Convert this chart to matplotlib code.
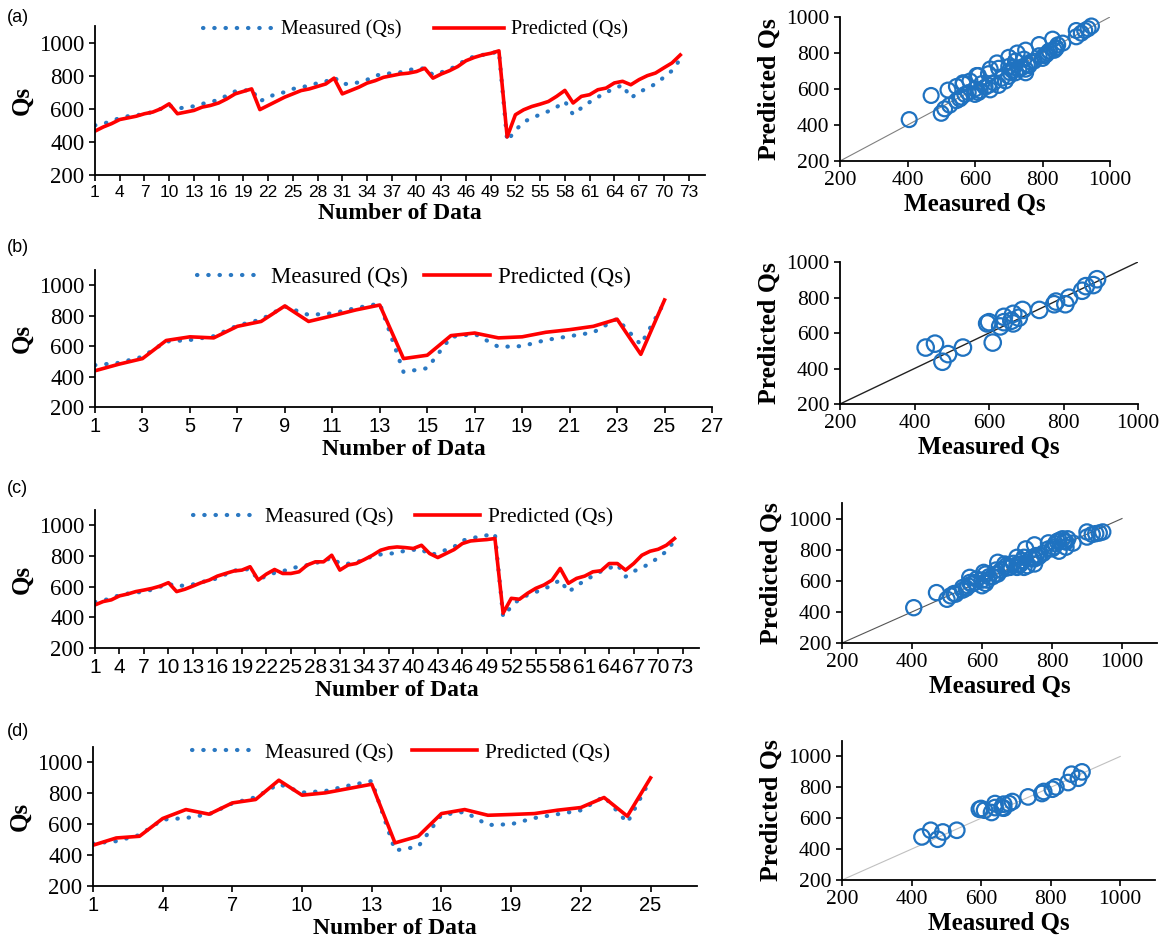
import numpy as np
import matplotlib
matplotlib.use("Agg")
import matplotlib.pyplot as plt

# ---- data ----
# 72-sample set, panels (a) and (c)
measured_72 = [500, 510, 525, 545, 555, 560, 570, 580, 600, 620,
               600, 610, 615, 630, 640, 655, 680, 705, 710, 715,
               645, 670, 690, 700, 720, 730, 740, 755, 765, 790,
               750, 750, 760, 775, 800, 810, 815, 820, 835, 840,
               845, 805, 820, 840, 860, 900, 915, 925, 935, 945,
               405, 470, 520, 545, 565, 585, 610, 645, 565, 605,
               640, 670, 700, 720, 745, 665, 700, 725, 750, 790,
               830, 900]
predicted_a = [465, 490, 510, 535, 545, 555, 570, 580, 600, 630,
               570, 580, 590, 610, 620, 635, 660, 690, 705, 720,
               595, 620, 645, 670, 690, 710, 720, 735, 750, 785,
               690, 710, 730, 755, 770, 790, 800, 810, 815, 825,
               845, 785, 810, 830, 855, 890, 910, 925, 935, 950,
               430, 564, 594, 614, 628, 644, 675, 711, 635, 675,
               685, 715, 725, 756, 766, 745, 776, 800, 816, 847,
               877, 925]
predicted_c = [481, 503, 514, 540, 552, 568, 578, 589, 604, 626,
               568, 583, 604, 626, 643, 669, 686, 702, 708, 730,
               643, 682, 712, 686, 686, 697, 741, 762, 762, 805,
               708, 741, 751, 777, 805, 838, 853, 859, 855, 849,
               870, 816, 790, 816, 842, 881, 898, 903, 907, 914,
               427, 524, 518, 557, 589, 611, 643, 719, 622, 654,
               669, 697, 704, 751, 751, 708, 751, 805, 831, 844,
               870, 914]

# 25-sample set, panels (b) and (d)
measured_25 = [475, 490, 530, 630, 640, 665, 735, 775, 860, 805,
               815, 850, 880, 430, 455, 660, 680, 595, 600, 640,
               665, 690, 780, 610, 890]
predicted_b = [438, 481, 518, 637, 661, 654, 730, 762, 864, 762,
               799, 838, 870, 518, 540, 669, 686, 654, 661, 691,
               708, 730, 777, 546, 903]
predicted_d = [464, 511, 522, 637, 695, 665, 738, 760, 885, 788,
               803, 831, 859, 479, 522, 669, 695, 658, 663, 669,
               691, 708, 773, 652, 900]

panel_labels = ["(a)", "(b)", "(c)", "(d)"]

SERIF = "Liberation Serif"
SANS = "Liberation Sans"
BLUE = "#2a78c2"
RED = "#ff0000"

W, H = 1159, 947
fig = plt.figure(figsize=(W / 100, H / 100), dpi=100)


def box(l, t, r, b):
    return [l / W, 1 - b / H, (r - l) / W, (b - t) / H]


def style_axes(ax):
    for s in ["top", "right"]:
        ax.spines[s].set_visible(False)
    for s in ["left", "bottom"]:
        ax.spines[s].set_linewidth(1.3)
    ax.tick_params(direction="out", length=4, width=1.2)


# (layout box, measured, predicted, xlim, xticks, x tick size, legend centre, legend size, col spacing, handle len)
line_panels = [
    (box(95, 26, 705, 175), measured_72, predicted_a, (1, 75), range(1, 74, 3), 12.5, (0.526, 0.973), 14.5, 1.6, 3.5),
    (box(95, 270, 712, 407), measured_25, predicted_b, (1, 27), range(1, 28, 2), 14.5, (0.517, 0.949), 16.5, 0.7, 2.9),
    (box(95, 510, 699, 648), measured_72, predicted_c, (1, 75), range(1, 74, 3), 15, (0.51, 0.949), 15.5, 1.0, 3.0),
    (box(93, 747, 697, 886), measured_25, predicted_d, (1, 27), range(1, 26, 3), 14.5, (0.51, 0.957), 15.5, 0.9, 3.0),
]

scatter_panels = [
    (box(840, 17, 1110, 161), measured_72, predicted_a, 1000, "#808080", 0.8, 115),
    (box(840, 262, 1138, 404), measured_25, predicted_b, 1000, "#222222", 1.0, 140),
    (box(842, 503, 1157, 643), measured_72, predicted_c, 1100, "#555555", 0.8, 120),
    (box(842, 741, 1155, 880), measured_25, predicted_d, 1100, "#c0c0c0", 0.8, 125),
]

label_y = [17, 248, 488, 731]

for i, (rect, meas, pred, xlim, xticks, xts, lc, lfs, csp, hl) in enumerate(line_panels):
    ax = fig.add_axes(rect)
    x = np.arange(1, len(meas) + 1)
    ax.plot(x, meas, color=BLUE, lw=3.0, linestyle=(0, (0.1, 2.6)),
            dash_capstyle="round", label="Measured (Qs)")
    ax.plot(x, pred, color=RED, lw=2.6, label="Predicted (Qs)")
    ax.set_xlim(*xlim)
    ax.set_ylim(200, 1100)
    ax.set_xticks(list(xticks))
    ax.set_yticks([200, 400, 600, 800, 1000])
    style_axes(ax)
    for t in ax.get_xticklabels():
        t.set_fontfamily(SANS)
        t.set_fontsize(xts)
    for t in ax.get_yticklabels():
        t.set_fontfamily(SERIF)
        t.set_fontsize(16.5)
    ax.set_xlabel("Number of Data", fontfamily=SERIF, fontweight="bold", fontsize=17, labelpad=2)
    ax.set_ylabel("Qs", fontfamily=SERIF, fontweight="bold", fontsize=18, labelpad=4)
    ax.legend(loc="center", bbox_to_anchor=lc, ncol=2, frameon=False,
              prop={"family": SERIF, "size": lfs}, handlelength=hl,
              handletextpad=0.35, columnspacing=csp, borderaxespad=0)
    fig.text(7 / W, 1 - label_y[i] / H, panel_labels[i], fontfamily=SANS,
             fontsize=13, va="center", ha="left")

for rect, meas, pred, lim, lcol, lw, ms in scatter_panels:
    ax = fig.add_axes(rect)
    ax.plot([200, 1000], [200, 1000], color=lcol, lw=lw, zorder=1)
    ax.scatter(meas, pred, s=ms, facecolors="none", edgecolors="#1f72c0",
               linewidths=1.6, zorder=2, clip_on=False)
    ax.set_xlim(200, lim)
    ax.set_ylim(200, lim)
    ax.set_xticks([200, 400, 600, 800, 1000])
    ax.set_yticks([200, 400, 600, 800, 1000])
    style_axes(ax)
    for t in ax.get_xticklabels() + ax.get_yticklabels():
        t.set_fontfamily(SERIF)
        t.set_fontsize(15.5)
    ax.set_xlabel("Measured Qs", fontfamily=SERIF, fontweight="bold", fontsize=18, labelpad=2)
    ax.set_ylabel("Predicted Qs", fontfamily=SERIF, fontweight="bold", fontsize=18.5, labelpad=4)

fig.savefig("out.png", dpi=100)
